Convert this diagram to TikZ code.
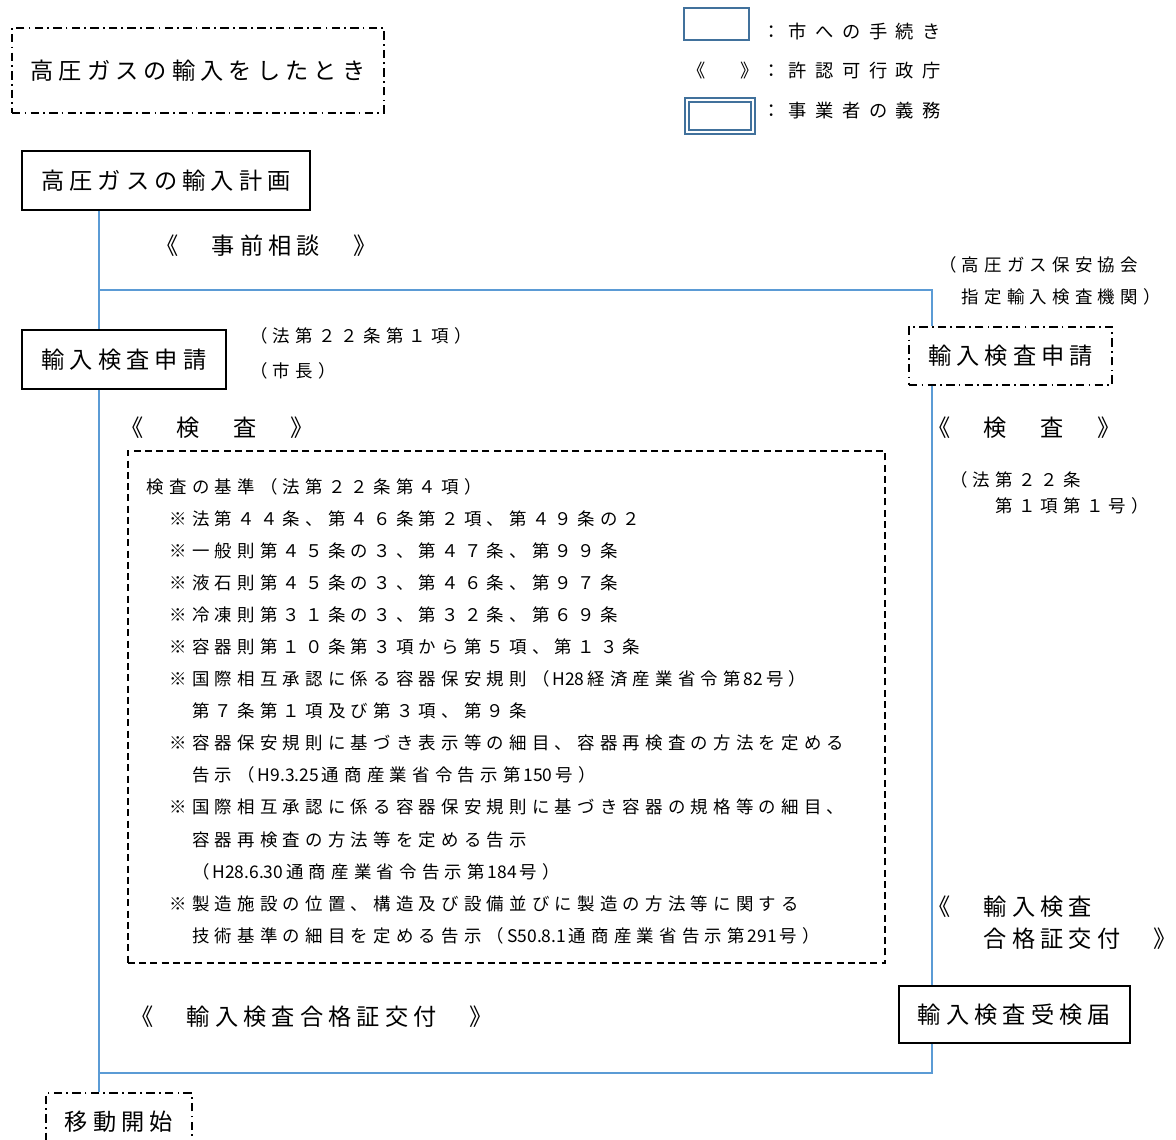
\documentclass[tikz,border=0pt]{standalone}
\usepackage{fontspec}
\usepackage{xcolor}
\newfontfamily\jpbig[LetterSpace=22]{Noto Sans CJK JP}
\newfontfamily\jplegend[LetterSpace=46]{Noto Sans CJK JP}
\newfontfamily\jpsmall[LetterSpace=30]{Noto Sans CJK JP}
\newfontfamily\jpplain{Noto Sans CJK JP}
\newcommand{\bigjp}{\jpbig\fontsize{16.5}{22.8}\selectfont}
\newcommand{\legjp}{\jplegend\fontsize{13}{16}\selectfont}
\newcommand{\smalljp}{\jpsmall\fontsize{12.4}{22.8}\selectfont}
\newcommand{\hw}[1]{\,{\jpplain #1}\,}
\definecolor{flowblue}{RGB}{91,155,213}
\definecolor{legblue}{RGB}{65,113,156}

\begin{document}
\begin{tikzpicture}[x=0.025cm, y=-0.025cm,
        procbox/.style={draw, line width=1.3pt, inner sep=0pt, font=\bigjp},
        otherbox/.style={draw, line width=1pt, inner sep=0pt, font=\bigjp,
                dash pattern=on 6pt off 3pt on 1.2pt off 3pt},
        critbox/.style={draw, line width=1pt, dash pattern=on 5pt off 3pt,
                align=left, text width=17.975cm, inner xsep=0.475cm, inner ysep=0pt,
                minimum height=12.8cm, font=\smalljp},
        cityproc/.style={draw=legblue, line width=1.8pt},
        duty/.style={draw=legblue, line width=1.3pt, double=white, double distance=1.3pt},
        note/.style={anchor=west, inner sep=0pt},
        flow/.style={draw=flowblue, line width=1.5pt}]
        \path[use as bounding box, fill=white] (0,0) rectangle (1176,1139);
        \clip (0,0) rectangle (1176,1139);
        \node[otherbox, minimum width=9.3cm, minimum height=2.125cm](case) at (198,70.5) {高圧ガスの輸入をしたとき};
        \node[cityproc, minimum width=1.625cm, minimum height=0.8cm](legcity) at (716.5,24) {};
        \node[note, font=\legjp](legcitytxt) at (762,32) {：市への手続き};
        \node[note, font=\legjp](legpermit) at (687,71) {《　》};
        \node[note, font=\legjp](legpermittxt) at (762,71) {：許認可行政庁};
        \node[duty, minimum width=1.65cm, minimum height=0.8cm](legduty) at (720,116) {};
        \node[note, font=\legjp](legdutytxt) at (762,111) {：事業者の義務};
        \node[procbox, minimum width=7.2cm, minimum height=1.475cm](plan) at (166,180.5) {高圧ガスの輸入計画};
        \node[note, font=\bigjp](consult) at (155,246) {《　事前相談　》};
        \node[procbox, minimum width=5.1cm, minimum height=1.475cm](applyL) at (124,359.5) {輸入検査申請};
        \node[note, font=\smalljp](lawL) at (250,336) {（法第２２条第１項）};
        \node[note, font=\smalljp](mayor) at (250,371) {（市長）};
        \node[note, align=left, font=\smalljp](org) at (939,280.5) {（高圧ガス保安協会\\　指定輸入検査機関）};
        \node[otherbox, minimum width=5.075cm, minimum height=1.45cm](applyR) at (1010.5,356) {輸入検査申請};
        \node[note, font=\bigjp](inspL) at (120,428) {《　検　査　》};
        \node[note, font=\bigjp](inspR) at (927,428) {《　検　査　》};
        \node[note, align=left, font=\jpsmall\fontsize{12.4}{18.5}\selectfont](lawR) at (950,493) {（法第２２条\\　　第１項第１号）};
        \node[critbox](crit) at (506.5,707) {\rule{0pt}{16.5pt}検査の基準（法第２２条第４項）\\
                　※法第４４条、第４６条第２項、第４９条の２\\
                　※一般則第４５条の３、第４７条、第９９条\\
                　※液石則第４５条の３、第４６条、第９７条\\
                　※冷凍則第３１条の３、第３２条、第６９条\\
                　※容器則第１０条第３項から第５項、第１３条\\
                　※国際相互承認に係る容器保安規則（\hw{H28}経済産業省令第\hw{82}号）\\
                　　第７条第１項及び第３項、第９条\\
                　※容器保安規則に基づき表示等の細目、容器再検査の方法を定める\\
                　　告示（\hw{H9.3.25}通商産業省令告示第\hw{150}号）\\
                　※国際相互承認に係る容器保安規則に基づき容器の規格等の細目、\\
                　　容器再検査の方法等を定める告示\\
                　　（\hw{H28.6.30}通商産業省令告示第\hw{184}号）\\
                　※製造施設の位置、構造及び設備並びに製造の方法等に関する\\
                　　技術基準の細目を定める告示（\hw{S50.8.1}通商産業省告示第\hw{291}号）};
        \node[note, font=\bigjp](certL) at (130,1017) {《　輸入検査合格証交付　》};
        \node[note, align=left, font=\bigjp](certR) at (927,923) {《　輸入検査\\　　合格証交付　》};
        \node[procbox, minimum width=5.775cm, minimum height=1.425cm](recv) at (1014.5,1014.5) {輸入検査受検届};
        \node[otherbox, minimum width=3.65cm, minimum height=1.45cm](start) at (119,1122) {移動開始};
        \coordinate(j1) at (99,290);
        \coordinate(j2) at (932,290);
        \coordinate(j3) at (932,1073);
        \coordinate(j4) at (99,1073);
        \draw[flow] (plan.south -| j1) -- (applyL.north -| j1);
        \draw[flow] (j1) -- (j2) -- (applyR.north -| j2);
        \draw[flow] (applyR.south -| j2) -- (recv.north -| j2);
        \draw[flow] (recv.south -| j2) -- (j3) -- (j4);
        \draw[flow] (applyL.south -| j1) -- (start.north -| j1);
        \end{tikzpicture}
\end{document}
